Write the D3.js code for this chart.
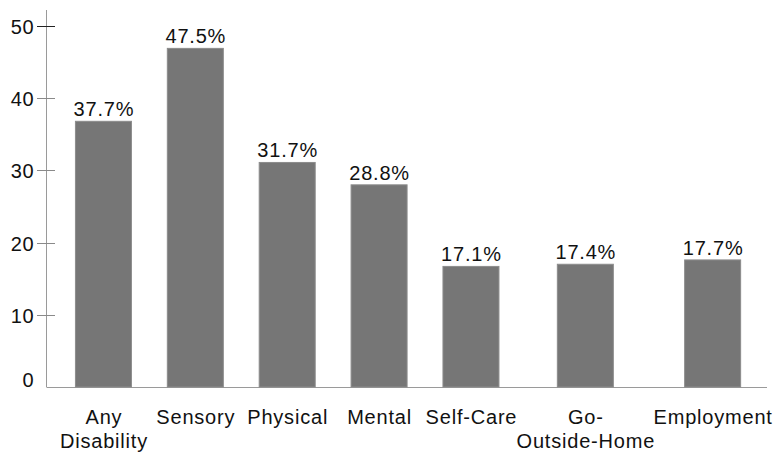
<!DOCTYPE html>
<html>
<head>
<meta charset="utf-8">
<script src="https://cdn.jsdelivr.net/npm/d3@7"></script>
<style>
  html, body { margin: 0; padding: 0; background: #fff; }
  svg text { font-family: "Liberation Sans", Arial, Helvetica, sans-serif; font-size: 20px; fill: #111; letter-spacing: 0.8px; }
</style>
</head>
<body>
<svg id="chart" width="777" height="452"></svg>
<script>
// ---- data ----
const categories = ["Any\nDisability", "Sensory", "Physical", "Mental", "Self-Care", "Go-\nOutside-Home", "Employment"];
const values = [36.8, 46.9, 31.1, 28.0, 16.7, 17.0, 17.6];
const valueLabels = ["37.7%", "47.5%", "31.7%", "28.8%", "17.1%", "17.4%", "17.7%"];
const yTicks = [0, 10, 20, 30, 40, 50];

// ---- layout ----
const svg = d3.select("#chart");
const axisX = 46.5, baseY = 387, topY = 26;
const y = d3.scaleLinear().domain([0, 50]).range([baseY, topY]);
const barW = 56;
const minSlot = 93;

// measure label widths to size category slots
const measure = svg.append("text").attr("x", -1000).attr("y", -1000);
const slotW = categories.map(c => {
  const lines = c.split("\n");
  return Math.max(minSlot, d3.max(lines, l => { measure.text(l); return measure.node().getComputedTextLength(); }));
});
measure.remove();
const offsets = [];
slotW.reduce((acc, w, i) => { offsets[i] = acc + w / 2; return acc + w; }, 0);
const total = d3.sum(slotW);
const xs = d3.scaleLinear().domain([0, total]).range([57.5, 771.5]);
const cx = i => xs(offsets[i]);

// baseline
svg.append("line").attr("x1", axisX).attr("x2", 767).attr("y1", baseY + 0.5).attr("y2", baseY + 0.5)
  .attr("stroke", "#9a9a9a").attr("stroke-width", 1);

// bars
svg.selectAll("rect.bar").data(values).join("rect").attr("class", "bar")
  .attr("x", (d, i) => cx(i) - barW / 2)
  .attr("y", d => y(d))
  .attr("width", barW)
  .attr("height", d => y(0) - y(d))
  .attr("fill", "#767676")
  .attr("stroke", "#8c8c8c")
  .attr("stroke-width", 1);

// value labels
svg.selectAll("text.val").data(valueLabels).join("text").attr("class", "val")
  .attr("x", (d, i) => cx(i) + 0.5)
  .attr("y", (d, i) => y(values[i]) - 5)
  .attr("text-anchor", "middle")
  .text(d => d);

// y axis line
svg.append("line").attr("x1", axisX).attr("x2", axisX).attr("y1", 10).attr("y2", baseY)
  .attr("stroke", "#9a9a9a").attr("stroke-width", 1);

// ticks and labels
const tg = svg.selectAll("g.tick").data(yTicks).join("g").attr("class", "tick")
  .attr("transform", d => `translate(0,${Math.round(y(d)) + 0.5})`);
tg.filter(d => d > 0).append("line").attr("x1", 37).attr("x2", 55)
  .attr("stroke", d => d === 50 ? "#222" : "#8a8a8a").attr("stroke-width", 1);
tg.append("text").attr("x", 34.5).attr("text-anchor", "end")
  .attr("dy", d => d === 0 ? "-0.5" : "7")
  .text(d => d);

// x category labels
const xl = svg.selectAll("text.cat").data(categories).join("text").attr("class", "cat")
  .attr("text-anchor", "middle");
xl.each(function (d, i) {
  const t = d3.select(this);
  d.split("\n").forEach((line, j) => {
    t.append("tspan").attr("x", cx(i) + 0.5).attr("y", 424 + j * 24).text(line);
  });
});
</script>
</body>
</html>
